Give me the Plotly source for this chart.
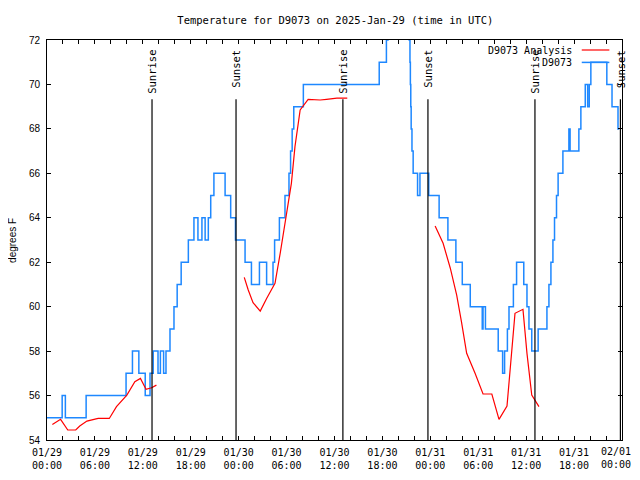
import pandas as pd
import plotly.graph_objects as go

BASE = pd.Timestamp("2025-01-29 00:00")

# Observed station temperature (D9073): hours since 01/29 00:00 UTC, degrees F (step changes)
obs_hours = [0.0, 1.9, 2.3, 4.9, 9.9, 10.7, 11.5, 12.3, 12.9, 13.3, 13.9, 14.2, 14.6, 14.9,
             15.4, 15.9, 16.3, 16.8, 17.7, 18.4, 18.9, 19.4, 19.8, 20.2, 20.5, 20.9, 22.3,
             23.0, 23.6, 24.8, 25.6, 26.6, 27.5, 28.3, 28.5, 29.1, 29.8, 30.3, 30.5, 30.7,
             30.9, 32.1, 41.6, 42.5, 42.7, 43.5, 45.0, 45.35, 45.45, 45.5, 45.55, 45.6, 45.7,
             45.85, 46.4, 46.7, 47.8, 49.1, 50.2, 51.2, 52.0, 53.0, 54.5, 54.6, 54.9, 56.5,
             57.05, 57.3, 57.65, 57.85, 58.4, 58.8, 59.7, 60.1, 60.35, 60.7, 61.5, 62.6,
             62.85, 63.1, 63.35, 63.55, 63.8, 64.0, 64.6, 65.35, 65.5, 66.6, 66.85, 67.4,
             67.7, 67.9, 68.1, 70.1, 70.75, 71.5, 71.65]
obs_temp = [55, 56, 55, 56, 57, 58, 57, 56, 57, 58, 57, 58, 57, 58,
            59, 60, 61, 62, 63, 64, 63, 64, 63, 64, 65, 66, 65,
            64, 63, 62, 61, 62, 61, 62, 63, 64, 65, 66, 67, 68,
            69, 70, 71, 72, 73, 74, 73, 72, 71, 70, 69, 68, 67,
            66, 65, 66, 65, 64, 63, 62, 61, 60, 59, 60, 59, 58,
            57, 58, 59, 60, 61, 62, 61, 60, 59, 58, 59, 60,
            61, 62, 63, 64, 65, 66, 67, 68, 67, 68, 69, 70,
            69, 70, 71, 70, 69, 68, 68]

# Analysis temperature (D9073 Analysis), None marks gaps
ana_hours = [0.67, 1.7, 2.6, 3.6, 4.1, 5.0, 6.4, 7.8, 8.7, 10.0, 11.0, 11.7, 12.4, 13.1, 13.7,
             13.8,
             24.7, 25.2, 25.8, 26.7, 27.5, 28.55, 29.2, 29.8, 30.2, 30.6, 31.05, 31.7, 32.7,
             34.2, 35.0, 36.3, 37.6,
             37.7,
             48.6, 49.6, 50.5, 51.3, 51.9, 52.55, 53.6, 54.6, 55.7, 56.6, 57.6, 57.9, 58.6,
             59.6, 60.1, 60.7, 61.6]
ana_temp = [54.7, 54.93, 54.45, 54.45, 54.63, 54.85, 54.97, 54.97, 55.5, 56.02, 56.62, 56.77,
            56.28, 56.35, 56.47,
            None,
            61.32, 60.75, 60.18, 59.8, 60.37, 61.05, 62.4, 63.82, 64.8, 65.55, 67.2, 68.85,
            69.33, 69.3, 69.33, 69.38, 69.38,
            None,
            63.63, 62.85, 61.73, 60.52, 59.32, 57.9, 57.0, 56.07, 56.07, 54.93, 55.53, 56.85,
            59.7, 59.88, 57.9, 56.02, 55.5]

# Sunrise / sunset events (hours since 01/29 00:00 UTC)
sun_hours = [13.15, 23.67, 37.05, 47.7, 61.1, 71.8]
sun_labels = ["Sunrise", "Sunset", "Sunrise", "Sunset", "Sunrise", "Sunset"]

# x tick label hours (every 6 h); the last one is written as an annotation so it stays visible
tick_hours = [0, 6, 12, 18, 24, 30, 36, 42, 48, 54, 60, 66]
last_tick_label = "02/01<br>00:00"

Y_MIN, Y_MAX = 54, 72
SUN_LINE_TOP = 69.33
SUN_LABEL_Y = 71.65


def to_time(hours):
    return [BASE + pd.Timedelta(hours=h) for h in hours]


BLUE = "#1e88ff"
RED = "#ff0000"
MONO = "DejaVu Sans Mono"
SANS = "Liberation Sans"

fig = go.Figure()
fig.add_trace(go.Scatter(x=to_time(obs_hours), y=obs_temp, mode="lines",
                         line=dict(color=BLUE, width=1.5, shape="hv"),
                         name="D9073", showlegend=False))
fig.add_trace(go.Scatter(x=to_time(ana_hours), y=ana_temp, mode="lines",
                         line=dict(color=RED, width=1.2), connectgaps=False,
                         name="D9073 Analysis", showlegend=False))

for t, lab in zip(to_time(sun_hours), sun_labels):
    fig.add_shape(type="line", xref="x", yref="y", x0=t, x1=t, y0=Y_MIN, y1=SUN_LINE_TOP,
                  line=dict(color="black", width=1.2))
    fig.add_annotation(x=t, y=SUN_LABEL_Y, xref="x", yref="y", text=lab, textangle=-90,
                       showarrow=False, xanchor="center", yanchor="top",
                       font=dict(family=MONO, size=10.5, color="black"))

# manual legend (text left of line sample)
legend_items = [("D9073 Analysis", RED, 0.975), ("D9073", BLUE, 0.944)]
for txt, col, yp in legend_items:
    fig.add_annotation(x=0.917, y=yp, xref="paper", yref="paper", text=txt,
                       showarrow=False, xanchor="right", yanchor="middle",
                       font=dict(family=MONO, size=10, color="black"))
    fig.add_shape(type="line", xref="paper", yref="paper", x0=0.93, x1=0.978, y0=yp, y1=yp,
                  line=dict(color=col, width=1.5 if col == BLUE else 1.2))

# y-axis title as rotated annotation
fig.add_annotation(x=-0.061, y=0.5, xref="paper", yref="paper", text="degrees F",
                   textangle=-90, showarrow=False, xanchor="center", yanchor="middle",
                   font=dict(family=SANS, size=10, color="black"))

# last x tick label (right-aligned so it is not clipped at the window edge)
fig.add_annotation(x=1.0, y=0, xref="paper", yref="paper", text=last_tick_label,
                   showarrow=False, xanchor="right", yanchor="top", align="right",
                   xshift=10, yshift=-5, borderpad=0,
                   font=dict(family=MONO, size=10, color="black"))

# page body adds an 8px offset, so the figure is 632x464 with margins compensated
fig.update_layout(
    width=632, height=464,
    margin=dict(l=39, r=18, t=32, b=32, autoexpand=False),
    paper_bgcolor="white", plot_bgcolor="white",
    title=dict(text="Temperature for D9073 on 2025-Jan-29 (time in UTC)", x=0.518,
               xanchor="center", y=0.9745, yanchor="middle", yref="container",
               font=dict(family=MONO, size=10.5, color="black")),
    showlegend=False,
)
fig.update_xaxes(
    range=[BASE, BASE + pd.Timedelta(hours=72)], automargin=False,
    tickformat="%m/%d<br>%H:%M", tickmode="array", tickvals=to_time(tick_hours),
    ticks="inside", ticklen=4, tickcolor="black",
    minor=dict(dtick=2 * 3600 * 1000, tick0=BASE, ticks="inside", ticklen=4,
               tickcolor="black"),
    showline=True, linecolor="black", linewidth=1, mirror="ticks",
    showgrid=False, zeroline=False, ticklabeloverflow="allow", ticklabelstandoff=3,
    tickfont=dict(family=MONO, size=10, color="black"),
)
fig.update_yaxes(
    range=[Y_MIN, Y_MAX], dtick=2, tick0=54, automargin=False,
    ticks="inside", ticklen=4, tickcolor="black",
    showline=True, linecolor="black", linewidth=1, mirror="ticks",
    showgrid=False, zeroline=False, ticklabelstandoff=4,
    tickfont=dict(family=SANS, size=10, color="black"),
)

fig.write_html("out.html")
